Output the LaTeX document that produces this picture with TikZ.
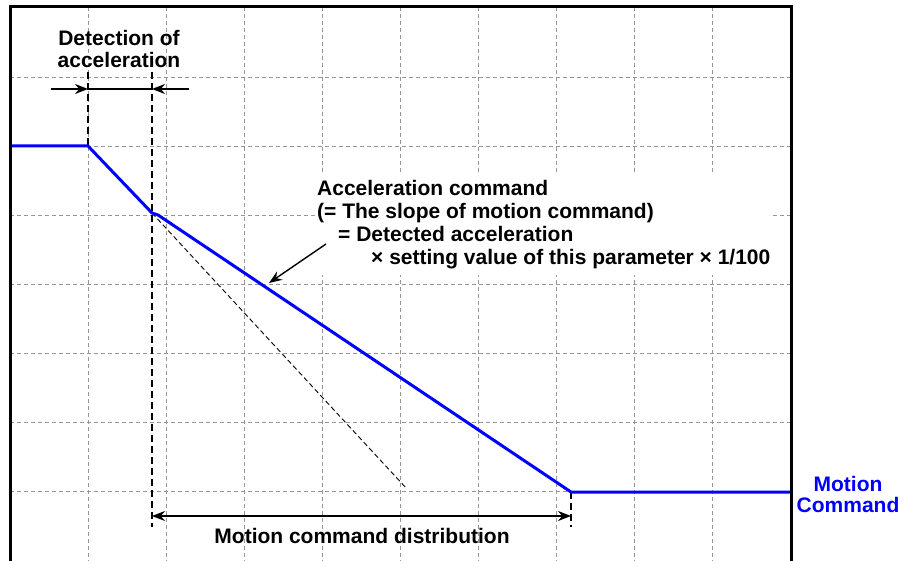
\documentclass[tikz,border=0pt]{standalone}
\usepackage{fontspec}
\setmainfont{Liberation Sans}
\usetikzlibrary{arrows.meta}
\definecolor{gridgray}{RGB}{150,150,150}
\definecolor{cmdblue}{RGB}{0,0,255}

\begin{document}
\begin{tikzpicture}[x=1pt, y=-1pt,
    every node/.style={font=\fontsize{21}{23}\selectfont\bfseries, inner sep=0pt},
    gridline/.style={gridgray, line width=0.9pt, dash pattern=on 4pt off 3pt},
    guide/.style={black, line width=1.4pt, dash pattern=on 7pt off 4pt},
    dimline/.style={black, line width=1.4pt},
    tip/.style={-{Stealth[length=13pt, width=10pt]}},
    cmd/.style={cmdblue, line width=3pt, line join=round}]
    \useasboundingbox (0,0) rectangle (917,561);

    % --- grade de fundo ---
    \foreach \x in {88,166,...,712}
      \draw[gridline] (\x,7) -- (\x,561);
    \foreach \y in {77,146,...,491}
      \draw[gridline] (10,\y) -- (791,\y);

    % --- pontos do comando de movimento ---
    \coordinate (S) at (10,146);
    \coordinate (A) at (88,146);
    \coordinate (B) at (152,213);
    \coordinate (Bk) at (158,215);
    \coordinate (C) at (571,492);
    \coordinate (E) at (791,492);
    \coordinate (D) at (407,489);

    % linhas de referencia
    \coordinate (At) at (88,72);
    \coordinate (Bt) at (152,72);
    \coordinate (Bb) at (152,527);
    \coordinate (Cb) at (571,527);
    \draw[guide] (At) -- (A);
    \draw[guide] (Bt) -- (Bb);
    \draw[guide] (C) -- (Cb);
    \draw[black, line width=0.9pt, dash pattern=on 5pt off 3pt] (B) -- (D);

    % comando (azul)
    \draw[cmd] (S) -- (A) -- (B) -- (Bk) -- (C) -- (E);

    % --- cotas ---
    \coordinate (dl) at (51,89);
    \coordinate (da) at (88,89);
    \coordinate (db) at (152,89);
    \coordinate (dr) at (189,89);
    \draw[dimline, tip] (dl) -- (da);
    \draw[dimline, tip] (dr) -- (db);
    \draw[dimline] (da) -- (db);

    \coordinate (ml) at (152,516);
    \coordinate (mr) at (571,516);
    \draw[dimline, {Stealth[length=13pt, width=10pt]}-{Stealth[length=13pt, width=10pt]}] (ml) -- (mr);

    % --- textos ---
    \node[align=center, anchor=north] (det) at (119,29.7)
      {Detection of\\[-1pt] acceleration};

    \node[fill=white, align=left, anchor=north west, inner xsep=2pt, inner ysep=6pt] (acc) at (315,174)
      {Acceleration command\\
       (= The slope of motion command)\\
       \hspace*{21pt}= Detected acceleration\\
       \hspace*{54pt}× setting value of this parameter × 1/100};

    \coordinate (ptr) at (326,244);
    \coordinate (hit) at (269,283);
    \draw[dimline, tip] (ptr) -- (hit);

    \node[anchor=base] (dist) at (362,543) {Motion command distribution};

    \node[cmdblue, align=center, anchor=north] (mc) at (848,475.7)
      {Motion\\[-2pt] Command};

    % --- moldura ---
    \draw[black, line width=3pt] (10,561) -- (10,7) -- (791,7) -- (791,561);
  \end{tikzpicture}
\end{document}
